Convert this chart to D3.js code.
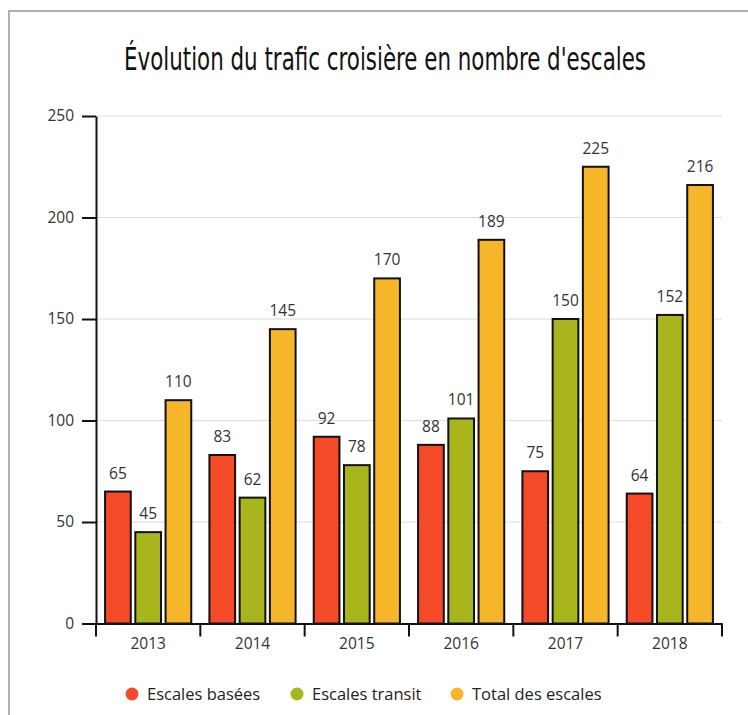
<!DOCTYPE html>
<html><head><meta charset="utf-8">
<script src="https://cdn.jsdelivr.net/npm/d3@7"></script>
<style>
html,body{margin:0;padding:0;background:#fff;}
svg{display:block;}
</style></head>
<body>
<svg id="chart" width="748" height="715"></svg>
<script>
const years = ["2013","2014","2015","2016","2017","2018"];
const seriesNames = ["Escales basées","Escales transit","Total des escales"];
const basees = [65,83,92,88,75,64];
const transit = [45,62,78,101,150,152];
const total = [110,145,170,189,225,216];
const yTicks = [0,50,100,150,200,250];
const colors = ["#f54a28","#a8b51c","#f6b62a"];
const title = "Évolution du trafic croisière en nombre d'escales";

const series = [basees, transit, total];
const svg = d3.select("#chart");
const m = {left:96, right:722, top:116, bottom:623.5};

// frame
svg.append("path").attr("d","M9,715 L9,11 L748,11").attr("fill","none").attr("stroke","#b0b0b0").attr("stroke-width",2);

// title (condensed look via horizontal compression)
svg.append("text").attr("transform","translate(385,70) scale(1,1.3)").attr("text-anchor","middle")
  .attr("font-family","'DejaVu Sans Condensed','Liberation Sans Narrow',sans-serif")
  .attr("font-size",24).attr("fill","#111")
  .attr("textLength",522).attr("lengthAdjust","spacingAndGlyphs")
  .text(title);

const y = d3.scaleLinear().domain([0,250]).range([m.bottom,m.top]);
const x0 = d3.scaleBand().domain(years).range([m.left,m.right]).paddingInner(0).paddingOuter(0);
const x1 = d3.scaleBand().domain(d3.range(3)).range([0,x0.bandwidth()]).paddingInner(0.15).paddingOuter(0.3);

// gridlines
svg.append("g").selectAll("line").data(yTicks.filter(d=>d>0)).join("line")
  .attr("x1",m.left).attr("x2",m.right).attr("y1",d=>y(d)).attr("y2",d=>y(d))
  .attr("stroke","#dcdcdc").attr("stroke-width",1);

// bars
const g = svg.append("g");
years.forEach((yr,i)=>{
  series.forEach((s,j)=>{
    const v = s[i];
    const bx = x0(yr)+x1(j);
    g.append("rect").attr("x",bx).attr("y",y(v)).attr("width",x1.bandwidth()).attr("height",y(0)-y(v))
      .attr("fill",colors[j]).attr("stroke","#111").attr("stroke-width",2);
    g.append("text").attr("x",bx+x1.bandwidth()/2).attr("y",y(v)-13).attr("text-anchor","middle")
      .attr("font-family","'Open Sans',sans-serif").attr("font-size",15.5).attr("fill","#333").text(v);
  });
});

// y axis
const ya = svg.append("g").attr("transform",`translate(${m.left},0)`)
  .call(d3.axisLeft(y).tickValues(yTicks).tickSize(14).tickPadding(8).tickSizeOuter(0));
ya.select(".domain").attr("stroke","#111").attr("stroke-width",2);
ya.selectAll(".tick line").attr("stroke","#111").attr("stroke-width",2);
ya.selectAll(".tick text").attr("font-family","'Open Sans',sans-serif").attr("font-size",15.5).attr("fill","#333");

// x axis
const xa = svg.append("g").attr("transform",`translate(0,${m.bottom})`)
  .call(d3.axisBottom(x0).tickSize(0).tickPadding(14));
xa.select(".domain").attr("stroke","#111").attr("stroke-width",2);
xa.selectAll(".tick text").attr("font-family","'Open Sans',sans-serif").attr("font-size",15.5).attr("fill","#333");
// boundary ticks
const bounds = years.map(d=>x0(d)).concat([m.right]);
xa.append("g").selectAll("line").data(bounds).join("line")
  .attr("x1",d=>d).attr("x2",d=>d).attr("y1",0).attr("y2",13)
  .attr("stroke","#111").attr("stroke-width",2);

// legend
const legX = [132,297,457];
const leg = svg.append("g");
seriesNames.forEach((n,j)=>{
  leg.append("circle").attr("cx",legX[j]).attr("cy",694).attr("r",6.5).attr("fill",colors[j]);
  leg.append("text").attr("x",legX[j]+15).attr("y",700)
    .attr("font-family","'Open Sans',sans-serif").attr("font-size",16.5).attr("fill","#222").text(n);
});
</script>
</body></html>
